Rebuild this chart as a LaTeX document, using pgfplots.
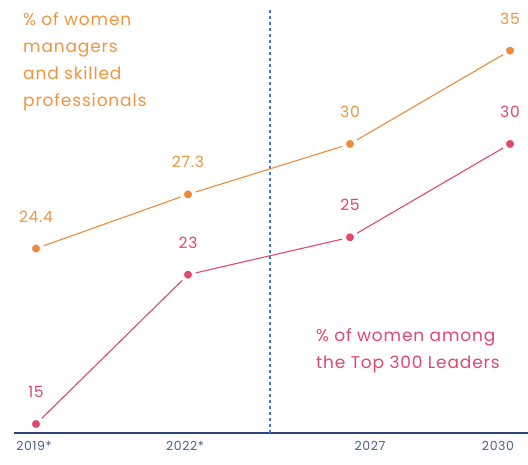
\documentclass[border=0pt]{standalone}
\usepackage{pgfplots}
\pgfplotsset{compat=1.18}
\usepackage{fontspec}
\setmainfont{Poppins}
\newfontfamily\lab[LetterSpace=5]{Poppins}
\definecolor{orng}{HTML}{F08A3A}
\definecolor{orngt}{HTML}{F0943F}
\definecolor{pnk}{HTML}{E2476C}
\definecolor{navy}{HTML}{2E4478}
\definecolor{dblue}{HTML}{3B7BC9}
\definecolor{tickc}{HTML}{4C5F8A}
\begin{document}
\begin{tikzpicture}
\useasboundingbox (-14pt,-31pt) rectangle (514pt,433pt);
\begin{axis}[
  at={(0pt,0pt)}, anchor=origin,
  scale only axis, width=514pt, height=433pt,
  xmin=14, xmax=528, ymin=14.52, ymax=37.71,
  axis x line=bottom, axis y line=none,
  axis line style={-, navy, line width=1.5pt},
  xtick={34,185,370,498},
  xticklabels={2019*,2022*,2027,2030},
  major tick length=0pt,
  xticklabel style={font=\lab\fontsize{12.5}{13}\selectfont, text=tickc, yshift=-5pt},
  ytick=\empty,
  clip=false,
  nodes near coords,
  point meta=explicit symbolic,
  every node near coord/.append style={font=\lab\fontsize{15.5}{16}\selectfont, anchor=south, yshift=21pt},
]
\draw[dblue, line width=1.6pt, dash pattern=on 3pt off 3pt] (axis cs:270,14.52) -- (axis cs:270,37.28);
\addplot[orng, line width=1.1pt, mark=*, mark size=6pt, mark options={solid, fill=orng, draw=white, line width=4pt},
  every node near coord/.append style={text=orngt}]
  table[meta=lab] {
x y lab
36 24.4 24.4
188 27.3 27.3
350 30 30
510 35 35
};
\addplot[pnk, line width=1.1pt, mark=*, mark size=6pt, mark options={solid, fill=pnk, draw=white, line width=4pt},
  every node near coord/.append style={text=pnk}]
  table[meta=lab] {
x y lab
36 15 15
188 23 23
350 25 25
510 30 30
};
\end{axis}
\node[anchor=north west, align=left, text=orngt, font=\lab\fontsize{17}{27}\selectfont, inner sep=0pt] at (9pt,421pt)
  {\% of women\\managers\\and skilled\\professionals};
\node[anchor=north west, align=left, text=pnk, font=\lab\fontsize{17}{27}\selectfont, inner sep=0pt] at (302pt,105pt)
  {\% of women among\\the Top 300 Leaders};
\end{tikzpicture}
\end{document}
